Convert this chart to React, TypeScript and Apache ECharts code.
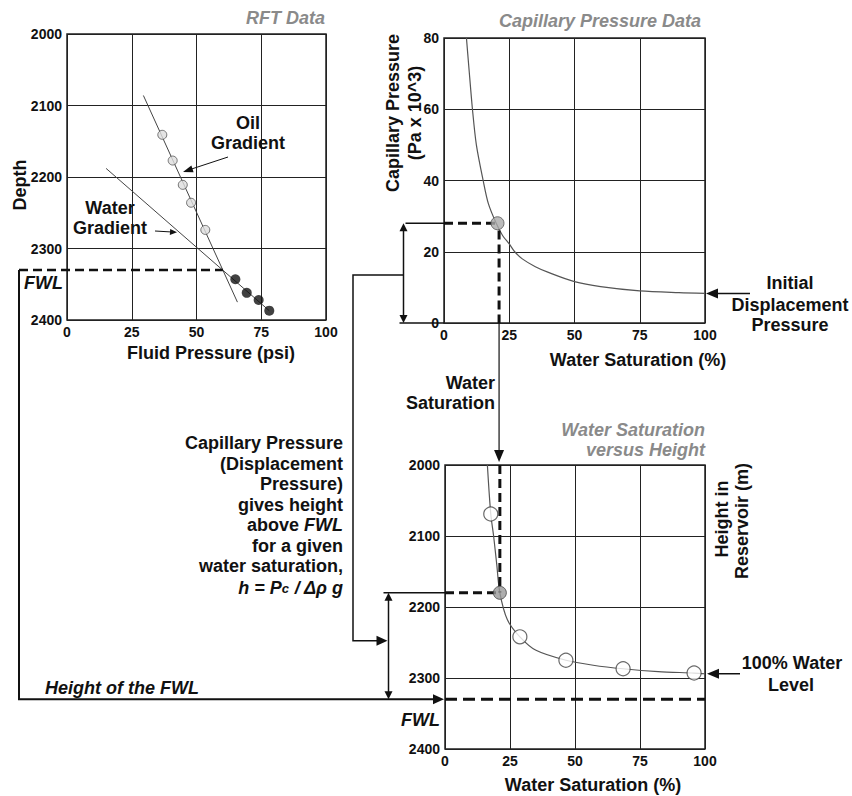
import React, { useEffect, useRef } from 'react';
import * as echarts from 'echarts';

const FONT = '"Liberation Sans", Arial, sans-serif';

// ---- RFT data ----
const pressureTicks = [0, 25, 50, 75, 100];
const depthTicks = [2000, 2100, 2200, 2300, 2400];
const oilPressure = [36.8, 40.8, 44.7, 47.9, 53.4];
const oilDepth = [2141, 2177, 2211, 2236, 2274];
const waterPressure = [65.0, 69.4, 74.0, 78.1];
const waterDepth = [2343, 2362, 2372, 2387];
const oilGradientPressure = [29.5, 65.8];
const oilGradientDepth = [2086, 2375];
const waterGradientPressure = [15.1, 78.1];
const waterGradientDepth = [2188, 2387];
const fwlDepth = 2330;
const fwlPressure = 60.2;

// ---- Capillary pressure data ----
const saturationTicks = [0, 25, 50, 75, 100];
const pcTicks = [0, 20, 40, 60, 80];
const pcCurveSw = [8.6, 9.5, 10.9, 12.4, 15.0, 17.0, 20.0, 22.5, 25, 27.1, 30, 35, 40, 50, 60, 75, 90, 100];
const pcCurvePc = [80, 72, 60, 50, 40, 33.5, 28, 24.5, 22.2, 20, 18, 15.8, 14.2, 11.6, 10.2, 9.0, 8.5, 8.3];
const capPointSw = [20.5];
const capPointPc = [28];
const selectedSw = 21.1;
const selectedPc = 28;

// ---- Water saturation vs height ----
const heightTicks = [2000, 2100, 2200, 2300, 2400];
const shCurveSw = [16.3, 17.6, 18.7, 19.9, 21.1, 24.0, 28.8, 35.0, 46.5, 57, 68.5, 82, 95.8, 100];
const shCurveHeight = [2000, 2069, 2100, 2140, 2180, 2218, 2242, 2261, 2275, 2282, 2287, 2291, 2293, 2294];
const shPointSw = [17.6, 28.8, 46.5, 68.5, 95.8];
const shPointHeight = [2069, 2242, 2275, 2287, 2293];
const shSelectedHeight = 2180;

const zip = (xs: number[], ys: number[]) => xs.map((x, i) => [x, ys[i]]);

const axis = (ticks: number[], inverse = false) => ({
  type: 'value',
  min: ticks[0],
  max: ticks[ticks.length - 1],
  interval: ticks[1] - ticks[0],
  inverse,
  axisLine: { show: false },
  axisTick: { show: false },
  splitLine: { show: true, lineStyle: { color: '#222', width: 1 } },
  axisLabel: {
    color: '#111', fontFamily: FONT, fontWeight: 'bold', fontSize: 14, margin: 5,
    formatter: (v: number) => String(v),
  },
});

const INK = '#111';
const FS = 18;

function seg(a: number[], b: number[], w = 1.5, dash?: number[]) {
  return {
    type: 'line', silent: true, z: 50,
    shape: { x1: a[0], y1: a[1], x2: b[0], y2: b[1] },
    style: { stroke: INK, lineWidth: w, lineDash: dash },
  };
}
function poly(points: number[][], w = 1.5) {
  return { type: 'polyline', silent: true, z: 50, shape: { points }, style: { stroke: INK, lineWidth: w, fill: null } };
}
function head(tip: number[], from: number[], len: number, hw: number) {
  const dx = tip[0] - from[0], dy = tip[1] - from[1];
  const d = Math.hypot(dx, dy) || 1;
  const ux = dx / d, uy = dy / d;
  const bx = tip[0] - ux * len, by = tip[1] - uy * len;
  return {
    type: 'polygon', silent: true, z: 51,
    shape: { points: [tip, [bx - uy * hw, by + ux * hw], [bx + uy * hw, by - ux * hw]] },
    style: { fill: INK },
  };
}
function txt(text: string, x: number, y: number, o: any = {}) {
  return {
    type: 'text', x, y, rotation: o.rot || 0, silent: true, z: 60,
    style: {
      text,
      fill: o.color || INK,
      fontFamily: FONT,
      fontSize: o.size || FS,
      fontWeight: 'bold',
      fontStyle: o.italic ? 'italic' : 'normal',
      textAlign: o.align || 'center',
      align: o.align || 'center',
      textVerticalAlign: 'middle',
      verticalAlign: 'middle',
      rich: o.rich,
    },
  };
}

export default function App() {
  const ref = useRef<HTMLDivElement>(null);
  useEffect(() => {
    document.body.style.margin = '0';
    const chart = echarts.init(ref.current!, null, { renderer: 'svg' });
    const dashThick = { color: INK, width: 3, type: [9, 5] as any };
    const option: any = {
      animation: false,
      backgroundColor: '#fff',
      grid: [
        { left: 67, top: 34, width: 259, height: 286, show: true, borderColor: '#222', borderWidth: 1.5 },
        { left: 444, top: 38, width: 261, height: 285, show: true, borderColor: '#222', borderWidth: 1.5 },
        { left: 445, top: 465, width: 260, height: 284, show: true, borderColor: '#222', borderWidth: 1.5 },
      ],
      xAxis: [
        { ...axis(pressureTicks), gridIndex: 0 },
        { ...axis(saturationTicks), gridIndex: 1 },
        { ...axis(saturationTicks), gridIndex: 2 },
      ],
      yAxis: [
        { ...axis(depthTicks, true), gridIndex: 0 },
        { ...axis(pcTicks), gridIndex: 1 },
        { ...axis(heightTicks, true), gridIndex: 2 },
      ],
      series: [
        { name: 'Oil Gradient', type: 'line', xAxisIndex: 0, yAxisIndex: 0, data: zip(oilGradientPressure, oilGradientDepth), symbol: 'none', lineStyle: { color: '#444', width: 1 }, z: 2 },
        { name: 'Water Gradient', type: 'line', xAxisIndex: 0, yAxisIndex: 0, data: zip(waterGradientPressure, waterGradientDepth), symbol: 'none', lineStyle: { color: '#444', width: 1 }, z: 2 },
        { name: 'Oil RFT', type: 'scatter', xAxisIndex: 0, yAxisIndex: 0, data: zip(oilPressure, oilDepth), symbolSize: 9, itemStyle: { color: '#ddd', borderColor: '#555', borderWidth: 1 }, z: 5 },
        { name: 'Water RFT', type: 'scatter', xAxisIndex: 0, yAxisIndex: 0, data: zip(waterPressure, waterDepth), symbolSize: 10, itemStyle: { color: '#111' }, z: 5 },

        { name: 'Capillary Pressure', type: 'line', xAxisIndex: 1, yAxisIndex: 1, data: zip(pcCurveSw, pcCurvePc), smooth: 0.3, symbol: 'none', lineStyle: { color: '#555', width: 1.2 }, z: 2 },
        { name: 'Pc level', type: 'line', xAxisIndex: 1, yAxisIndex: 1, data: [[0, selectedPc], [capPointSw[0], selectedPc]], symbol: 'none', lineStyle: dashThick, z: 3 },
        { name: 'Sw level', type: 'line', xAxisIndex: 1, yAxisIndex: 1, data: [[selectedSw, selectedPc - 2], [selectedSw, 0]], symbol: 'none', lineStyle: dashThick, z: 3 },
        { name: 'Pc point', type: 'scatter', xAxisIndex: 1, yAxisIndex: 1, data: zip(capPointSw, capPointPc), symbolSize: 13, itemStyle: { color: '#aaa', borderColor: '#555', borderWidth: 1 }, z: 5 },

        { name: 'Sw vs Height', type: 'line', xAxisIndex: 2, yAxisIndex: 2, data: zip(shCurveSw, shCurveHeight), smooth: 0.3, symbol: 'none', lineStyle: { color: '#555', width: 1.2 }, z: 2 },
        { name: 'Sw sel vertical', type: 'line', xAxisIndex: 2, yAxisIndex: 2, data: [[selectedSw, 2000], [selectedSw, shSelectedHeight]], symbol: 'none', lineStyle: dashThick, z: 3 },
        { name: 'Height sel', type: 'line', xAxisIndex: 2, yAxisIndex: 2, data: [[0, shSelectedHeight], [selectedSw, shSelectedHeight]], symbol: 'none', lineStyle: dashThick, z: 3 },
        { name: 'FWL', type: 'line', xAxisIndex: 2, yAxisIndex: 2, data: [[0, fwlDepth], [100, fwlDepth]], symbol: 'none', lineStyle: { color: INK, width: 3, type: [12, 6] }, z: 3 },
        { name: 'Sw points', type: 'scatter', xAxisIndex: 2, yAxisIndex: 2, data: zip(shPointSw, shPointHeight), symbolSize: 14, itemStyle: { color: '#fff', borderColor: '#444', borderWidth: 1.2 }, z: 5 },
        { name: 'Sw selected', type: 'scatter', xAxisIndex: 2, yAxisIndex: 2, data: [[selectedSw, shSelectedHeight]], symbolSize: 13, itemStyle: { color: '#999', borderColor: '#444', borderWidth: 1 }, z: 6 },
      ],
    };
    chart.setOption(option);

    const p0 = (x: number, y: number) => chart.convertToPixel({ gridIndex: 0 }, [x, y]) as number[];
    const p1 = (x: number, y: number) => chart.convertToPixel({ gridIndex: 1 }, [x, y]) as number[];
    const p2 = (x: number, y: number) => chart.convertToPixel({ gridIndex: 2 }, [x, y]) as number[];

    const rftFwlY = p0(0, fwlDepth)[1];
    const intX = p0(fwlPressure, fwlDepth)[0];
    const [capLeft, capBottom] = p1(0, 0);
    const capPcY = p1(0, selectedPc)[1];
    const capSwX = p1(selectedSw, 0)[0];
    const capRight = p1(100, 0)[0];
    const capEndY = p1(100, pcCurvePc[pcCurvePc.length - 1])[1];
    const [botLeft, botTop] = p2(0, heightTicks[0]);
    const botRight = p2(100, 2000)[0];
    const botFwlY = p2(0, fwlDepth)[1];
    const botSelY = p2(0, shSelectedHeight)[1];
    const botEndY = p2(100, shCurveHeight[shCurveHeight.length - 1])[1];

    const boxX = 19;
    const ax = 403.5;
    const bx = 388.5;
    const midY1 = capPcY + 0.52 * (capBottom - capPcY);
    const midY2 = botSelY + 0.45 * (botFwlY - botSelY);
    const grey = '#8a8a8a';

    const richN = { fontFamily: FONT, fontSize: FS, fontWeight: 'bold', fill: INK };
    const richI = { fontFamily: FONT, fontSize: FS, fontWeight: 'bold', fontStyle: 'italic', fill: INK };

    const graphic: any[] = [
      // RFT FWL
      seg([boxX, rftFwlY], [intX, rftFwlY], 2.5, [9, 5]),
      poly([[boxX, rftFwlY], [boxX, botFwlY], [botLeft - 8, botFwlY]], 2),
      head([botLeft - 1, botFwlY], [boxX, botFwlY], 11, 5),
      // capillary double arrow
      seg([ax, capPcY + 3], [ax, capBottom - 3], 1.5),
      head([ax, capPcY], [ax, capBottom], 8, 4),
      head([ax, capBottom], [ax, capPcY], 8, 4),
      seg([ax + 2, capPcY], [capLeft, capPcY], 1.5),
      seg([ax - 4, capBottom], [capLeft, capBottom], 1.5),
      // connector from capillary to height
      poly([[ax, midY1], [353, midY1], [353, midY2], [bx - 9, midY2]], 1.5),
      head([bx - 1, midY2], [353, midY2], 11, 5),
      // height double arrow
      seg([bx, botSelY + 3], [bx, botFwlY - 3], 1.5),
      head([bx, botSelY], [bx, botFwlY], 8, 4),
      head([bx, botFwlY], [bx, botSelY], 8, 4),
      seg([bx - 5, botSelY], [botLeft, botSelY], 1.5),
      // water saturation drop
      seg([capSwX, capBottom], [capSwX, botTop - 12], 1.2),
      head([capSwX, botTop - 3], [capSwX, capBottom], 12, 5),
      // initial displacement pressure arrow
      seg([750, capEndY], [capRight + 10, capEndY], 1.5),
      head([capRight + 1, capEndY], [750, capEndY], 12, 5),
      // 100% water level arrow
      seg([740, botEndY], [botRight + 10, botEndY], 1.5),
      head([botRight + 2, botEndY], [740, botEndY], 12, 5),
      // gradient arrows
      seg([228, 157], [187, 170.5], 1),
      head([183, 172], [228, 157], 10, 3.5),
      seg([155, 231], [172, 232], 1),
      head([177, 232.3], [155, 231], 7, 3),

      // titles
      txt('RFT Data', 325, 18, { align: 'right', italic: true, color: grey }),
      txt('Capillary Pressure Data', 600, 21, { italic: true, color: grey }),
      txt('Water Saturation', 705, 430, { align: 'right', italic: true, color: grey }),
      txt('versus Height', 705, 450, { align: 'right', italic: true, color: grey }),
      // axis names
      txt('Depth', 20, 185, { rot: Math.PI / 2 }),
      txt('Fluid Pressure (psi)', 211, 353),
      txt('Capillary Pressure', 393, 113, { rot: Math.PI / 2 }),
      txt('(Pa x 10^3)', 415, 113, { rot: Math.PI / 2 }),
      txt('Water Saturation (%)', 638, 360),
      txt('Height in', 722, 519, { rot: Math.PI / 2 }),
      txt('Reservoir (m)', 742, 521, { rot: Math.PI / 2 }),
      txt('Water Saturation (%)', 593, 785),
      // labels
      txt('Oil', 248, 123),
      txt('Gradient', 248, 143),
      txt('Water', 110, 208),
      txt('Gradient', 110, 228),
      txt('FWL', 63, 283, { align: 'right', italic: true }),
      txt('Initial', 790, 283),
      txt('Displacement', 790, 305),
      txt('Pressure', 790, 325),
      txt('Water', 495, 383, { align: 'right' }),
      txt('Saturation', 495, 403, { align: 'right' }),
      txt('100% Water', 792, 663),
      txt('Level', 791, 685),
      txt('FWL', 440, 720, { align: 'right', italic: true }),
      txt('Height of the FWL', 45, 688, { align: 'left', italic: true }),
      // explanation
      txt('Capillary Pressure', 343, 443, { align: 'right' }),
      txt('(Displacement', 343, 463.5, { align: 'right' }),
      txt('Pressure)', 343, 484, { align: 'right' }),
      txt('gives height', 343, 504.5, { align: 'right' }),
      txt('{n|above }{i|FWL}', 343, 525, { align: 'right', rich: { n: richN, i: richI } }),
      txt('for a given', 343, 545.5, { align: 'right' }),
      txt('water saturation,', 343, 566, { align: 'right' }),
      txt('{i|h = P}{s|c}{i| / Δρ g}', 343, 588, {
        align: 'right',
        rich: {
          i: richI,
          s: { fontFamily: FONT, fontSize: 13, fontWeight: 'bold', fontStyle: 'italic', fill: INK },
        },
      }),
    ];
    chart.setOption({ graphic });

    return () => chart.dispose();
  }, []);
  return <div ref={ref} style={{ width: 852, height: 796 }} />;
}
